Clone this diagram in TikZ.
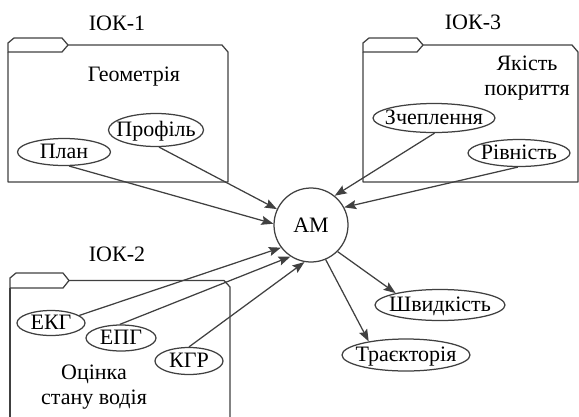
\documentclass[tikz,border=0pt]{standalone}
\usepackage{fontspec}
\setmainfont{Liberation Serif}
\usetikzlibrary{shapes.geometric,arrows.meta}
\newcommand{\ztxt}[1]{\makebox[0pt]{#1}}
\begin{document}
\begin{tikzpicture}[x=1pt,y=-1pt,
  every node/.style={font=\fontsize{22}{24.5}\selectfont, text=black},
  fold/.style={draw=black!75, line width=1.25pt, line join=round},
  ell/.style={ellipse, draw=black!75, line width=1.25pt, inner sep=0pt, text height=12.5pt, text depth=0pt},
  lbl/.style={inner sep=0pt, align=center},
  conn/.style={draw=black!75, line width=1.25pt, -{Stealth[length=12pt,width=9pt,inset=2pt]}}]
\useasboundingbox (0,0) rectangle (579,416);
\clip (0,0) rectangle (579,416);
% folder 1
\draw[fold] (8,52) -- (8,43) -- (14,38) -- (62,38) -- (68,45) -- (62,52) -- cycle;
\draw[fold] (68,45) -- (222,45) -- (228,52) -- (228,182) -- (8,182) -- (8,52);
% folder 2
\draw[fold] (10,288) -- (10,278) -- (16,273) -- (63,273) -- (69,280.5) -- (63,288) -- cycle;
\draw[fold] (69,280.5) -- (224,280.5) -- (230,287) -- (230,425);
\draw[fold] (10,288) -- (10,425);
% folder 3
\draw[fold] (363,52) -- (363,43) -- (369,38) -- (417,38) -- (423,45) -- (417,52) -- cycle;
\draw[fold] (423,45) -- (572,45) -- (578,52) -- (578,182) -- (363,182) -- (363,52);
% labels
\node[lbl] (t1) at (117,23) {ІОК-1};
\node[lbl] (t2) at (117,254) {ІОК-2};
\node[lbl] (t3) at (473,22) {ІОК-3};
\node[lbl] (geo) at (134,77) {Геометрія};
\node[lbl] (yak) at (527,78) {Якість\\покриття};
\node[lbl] (oc) at (94,387) {Оцінка\\стану водія};
% ellipses
\node[ell, minimum width=93pt, minimum height=27pt] (plan) at (64,152) {\ztxt{План}};
\node[ell, minimum width=95pt, minimum height=33pt] (prof) at (156,130) {\ztxt{Профіль}};
\node[ell, minimum width=122pt, minimum height=29pt] (zch) at (434,118) {\ztxt{Зчеплення}};
\node[ell, minimum width=102pt, minimum height=27pt] (riv) at (519,153) {\ztxt{Рівність}};
\node[ell, minimum width=68pt, minimum height=25pt] (ekg) at (51,323) {\ztxt{ЕКГ}};
\node[ell, minimum width=70pt, minimum height=26pt] (epg) at (121,338) {\ztxt{ЕПГ}};
\node[ell, minimum width=68pt, minimum height=27pt] (kgr) at (189,361) {\ztxt{КГР}};
\node[ell, minimum width=130pt, minimum height=31pt] (shv) at (440,305) {\ztxt{Швидкість}};
\node[ell, minimum width=128pt, minimum height=32pt] (trj) at (406,355) {\ztxt{Траєкторія}};
% central node
\node[circle, draw=black!75, line width=1.25pt, minimum size=74pt, inner sep=0pt] (am) at (311,225) {АМ};
% connectors
\draw[conn] (plan.-70) -- (am.178);
\draw[conn] (prof.-80) -- (am.155);
\draw[conn] (zch.-88) -- (am.51);
\draw[conn] (riv.-95) -- (am.28);
\draw[conn] (ekg.15) -- (am.217);
\draw[conn] (epg.95) -- (am.237);
\draw[conn] (kgr.90) -- (am.260);
\draw[conn] (am.-45) -- (shv.165);
\draw[conn] (am.-67) -- (trj.160);
\end{tikzpicture}
\end{document}
